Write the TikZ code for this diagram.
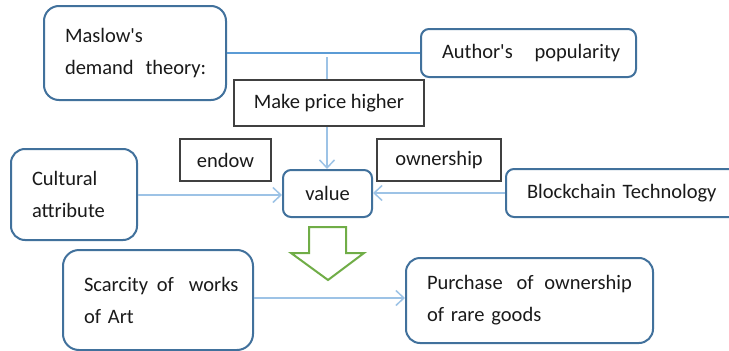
\documentclass[tikz,border=0pt]{standalone}
\usepackage{fontspec}
\setmainfont{Carlito}
\usetikzlibrary{arrows.meta}
\definecolor{boxblue}{HTML}{41719C}
\definecolor{lineblue}{HTML}{5B9BD5}
\definecolor{arrblue}{HTML}{9DC3E6}
\definecolor{darkframe}{HTML}{404040}
\definecolor{greenarr}{HTML}{70AD47}
\definecolor{txt}{HTML}{1A1A1A}
\newcommand{\ap}{\textquotesingle}
\tikzset{
  rbox/.style={draw=boxblue, line width=2pt, fill=white, inner xsep=21pt, inner ysep=0pt,
    align=left, text=txt, font=\fontsize{20.5}{32}\selectfont},
  sbox/.style={draw=darkframe, line width=1.5pt, fill=white, inner sep=0pt, align=center,
    text=txt, font=\fontsize{20.5}{32}\selectfont},
  conn/.style={draw=arrblue, line width=2pt},
  arr/.style={conn, -{Straight Barb[length=8pt,width=15pt,line width=1.5pt]}},
}
\begin{document}
\begin{tikzpicture}[x=1pt,y=-1pt]
\useasboundingbox (0,0) rectangle (729,351);
\clip (0,0) rectangle (729,351);
\fill[white] (0,0) rectangle (729,351);
% boxes
\node[rbox, rounded corners=15pt, minimum width=182pt, minimum height=94pt, text width=140pt] (maslow) at (135,53) {\mbox{Maslow\ap s}\\\mbox{demand\hspace{5pt} theory:}};
\node[rbox, rounded corners=8pt, minimum width=215pt, minimum height=48pt, text width=173pt] (author) at (528.5,53) {\mbox{Author\ap s\hspace{15pt} popularity}};
\node[sbox, minimum width=190pt, minimum height=46pt] (make) at (329,103) {Make price higher};
\node[sbox, minimum width=91pt, minimum height=42pt] (endow) at (225.5,160) {endow};
\node[sbox, minimum width=124pt, minimum height=42pt] (own) at (439,160) {ownership};
\node[rbox, rounded corners=8pt, minimum width=89pt, minimum height=47pt, inner xsep=0pt, align=center] (value) at (327.5,193.5) {value};
\node[rbox, rounded corners=14pt, minimum width=126pt, minimum height=91pt, text width=84pt] (cult) at (74,194.5) {\mbox{Cultural}\\\mbox{attribute}};
\node[rbox, rounded corners=8pt, minimum width=254pt, minimum height=48pt, text width=212pt] (block) at (633,193) {\mbox{Blockchain Technology}};
\node[rbox, rounded corners=16pt, minimum width=190pt, minimum height=100pt, text width=148pt] (scar) at (158,300) {\mbox{Scarcity\hspace{2pt} of\hspace{8pt} works}\\\mbox{of Art}};
\node[rbox, rounded corners=14pt, minimum width=247pt, minimum height=85pt, text width=205pt] (purch) at (529.5,300.5) {\mbox{Purchase\hspace{7pt} of\hspace{4pt} ownership}\\\mbox{of rare goods}};
% connectors
\draw[draw=lineblue, line width=1.3pt] (maslow.east) -- (author.west);
\coordinate (vtop) at (327,57);
\draw[conn] (vtop) -- (vtop |- make.north);
\draw[arr] (make.south -| vtop) -- (value.north -| vtop);
\draw[arr] (cult.east |- 0,195) -- (value.west |- 0,195);
\draw[arr] (block.west) -- (value.east |- block.west);
\draw[arr] (scar.east |- 0,298) -- (purch.west |- 0,298);
% big green arrow
\draw[draw=greenarr, line width=2pt, fill=white, line join=miter]
  (309,227) -- (346,227) -- (346,253) -- (364,253) -- (328,280) -- (291,253) -- (309,253) -- cycle;
\end{tikzpicture}
\end{document}
